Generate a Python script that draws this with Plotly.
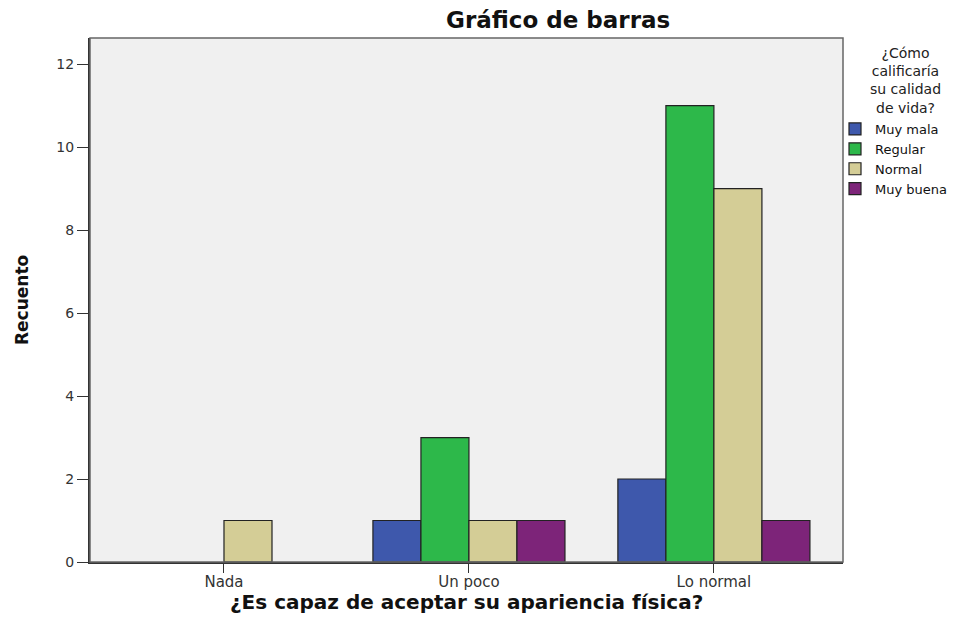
import plotly.graph_objects as go

categories = ["Nada", "Un poco", "Lo normal"]
series_names = ["Muy mala", "Regular", "Normal", "Muy buena"]
muy_mala = [None, 1, 2]
regular = [None, 3, 11]
normal = [1, 1, 9]
muy_buena = [None, 1, 1]
values = [muy_mala, regular, normal, muy_buena]
colors = ["#3E58AC", "#2DB84A", "#D4CD96", "#7D2479"]
y_ticks = [0, 2, 4, 6, 8, 10, 12]
legend_title = "¿Cómo<br>calificaría<br>su calidad<br>de vida?"

FONT = "DejaVu Sans, Liberation Sans, Arial"
W, H = 957, 608
L, R, T, B = 82, 122, 30, 54
PW, PH = W - L - R, H - T - B

fig = go.Figure()
for name, vals, col in zip(series_names, values, colors):
    fig.add_trace(go.Bar(
        x=categories, y=vals, name=name,
        marker=dict(color=col, line=dict(color="#222222", width=1.2)),
    ))

def px_x(fx):
    return (fx - L) / PW

def px_y(fy):
    return 1 - (fy - T) / PH

annotations = [
    dict(text="<b>Gráfico de barras</b>", x=px_x(550), y=1.0, yanchor="middle", yshift=18,
         xref="paper", yref="paper", showarrow=False, font=dict(size=23, color="#111", family=FONT)),
    dict(text="<b>¿Es capaz de aceptar su apariencia física?</b>", x=0.5, y=0, yanchor="middle",
         yshift=-(594 - 554), xref="paper", yref="paper", showarrow=False,
         font=dict(size=20, color="#111", family=FONT)),
    dict(text="<b>Recuento</b>", x=px_x(14), y=0.5, textangle=-90, xanchor="center", yanchor="middle",
         xref="paper", yref="paper", showarrow=False, font=dict(size=17, color="#111", family=FONT)),
    dict(text=legend_title, x=px_x(897), y=px_y(73), xanchor="center", yanchor="middle",
         xref="paper", yref="paper", showarrow=False, align="center",
         font=dict(size=14, color="#222", family=FONT)),
]

fig.update_layout(
    width=W, height=H,
    paper_bgcolor="white", plot_bgcolor="#F0F0F0",
    margin=dict(l=L, r=R, t=T, b=B, autoexpand=False),
    barmode="group", bargap=0.216, bargroupgap=0,
    font=dict(family=FONT, size=14, color="#222"),
    showlegend=True,
    legend=dict(x=px_x(827), xanchor="left", y=px_y(106), yanchor="top",
                font=dict(size=13, color="#111", family=FONT), tracegroupgap=0,
                itemwidth=30, bgcolor="rgba(0,0,0,0)"),
    annotations=annotations,
    xaxis=dict(
        type="category", range=[-0.547, 2.527],
        showline=True, linecolor="#333", linewidth=2, mirror=False,
        ticks="outside", ticklen=9, tickcolor="#333", tickwidth=1,
        ticklabelstandoff=-4,
        tickfont=dict(size=15, color="#333", family=FONT),
    ),
    yaxis=dict(
        range=[0, 12.63], tickvals=y_ticks, showgrid=False, zeroline=False,
        showline=True, linecolor="#333", linewidth=2,
        ticks="outside", ticklen=11, tickcolor="#333", tickwidth=1,
        tickfont=dict(size=14, color="#333", family=FONT),
    ),
    shapes=[dict(type="rect", xref="paper", yref="paper", x0=0, y0=0, x1=1, y1=1,
                 line=dict(color="#666", width=1.5), fillcolor="rgba(0,0,0,0)", layer="above")],
)

fig.write_html("out.html")
